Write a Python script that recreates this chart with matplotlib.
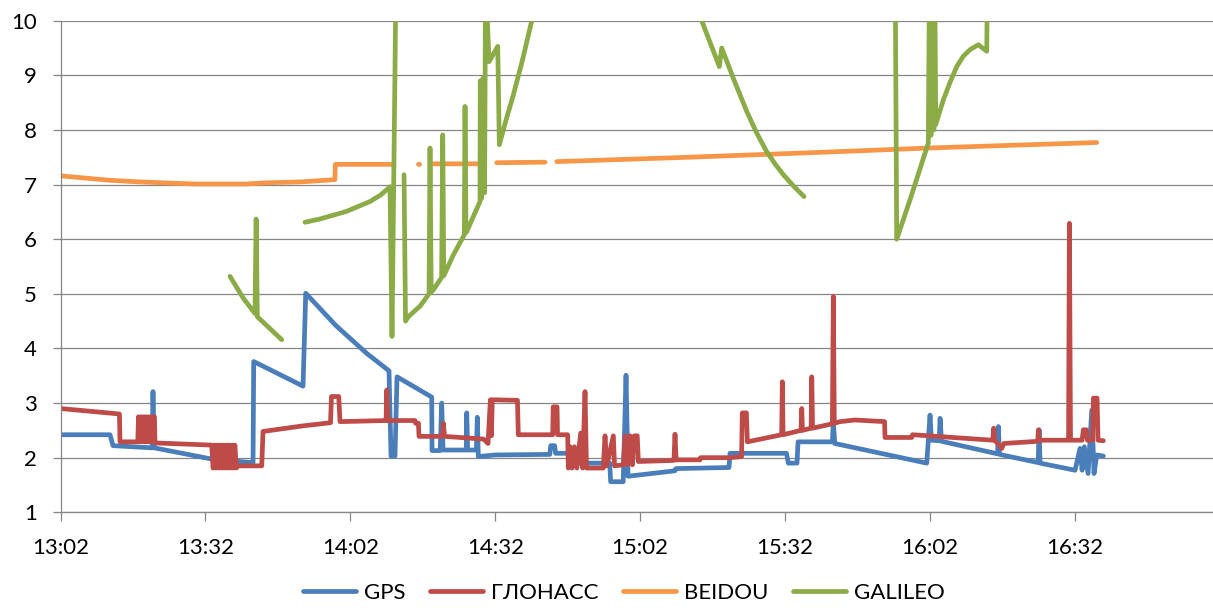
import matplotlib
matplotlib.use("Agg")
import matplotlib.pyplot as plt
import matplotlib.dates as mdates
import numpy as np
import pandas as pd

plt.rcParams["font.family"] = ["Lato", "DejaVu Sans"]

# Session start; all sample times are minutes elapsed since 13:02
START = pd.Timestamp("2000-01-01 13:02")
nan = np.nan

series_names = ["GPS", "ГЛОНАСС", "BEIDOU", "GALILEO"]
series_colors = ["#4A7EBB", "#BE4B48", "#F79646", "#8AAB46"]

gps_min = [0, 10.25, 10.87, 18.95, 19.15, 19.4, 31.57, 39.86, 40.0, 50.21, 50.77,
           57.0, 63.39, 68.01, 68.43, 69.25, 69.67, 76.85, 76.92, 78.6, 78.92, 79.2,
           84.0, 84.1, 84.3, 86.1, 86.29, 86.5, 90.0, 101.3, 101.5, 102.3, 102.5,
           105.5, 105.8, 113.7, 113.9, 116.5, 117.08, 117.5, 127.22, 127.4, 138.4,
           138.61, 150.3, 150.68, 152.48, 152.69, 159.8, 160.0, 160.3, 179.34,
           180.02, 180.3, 181.9, 182.1, 182.4, 194.0, 194.17, 194.4, 202.4, 202.6,
           202.8, 210.04, 211.07, 211.5, 211.97, 212.74, 213.5, 213.97, 214.53, 215.9]
gps_val = [2.42, 2.42, 2.22, 2.18, 3.21, 2.18, 1.97, 1.91, 3.76, 3.31, 5.01,
           4.42, 3.91, 3.59, 2.03, 2.03, 3.48, 3.11, 2.13, 2.13, 3.00, 2.14,
           2.14, 2.82, 2.14, 2.14, 2.74, 2.02, 2.05, 2.06, 2.22, 2.22, 2.08,
           2.08, 1.90, 1.90, 1.56, 1.56, 3.51, 1.66, 1.76, 1.80, 1.82,
           2.08, 2.08, 1.90, 1.90, 2.29, 2.29, 2.65, 2.26, 1.90,
           2.78, 2.32, 2.31, 2.72, 2.30, 2.07, 2.57, 2.06, 1.91, 2.51,
           1.90, 1.77, 2.17, 1.77, 2.20, 1.71, 2.87, 1.71, 2.05, 2.03]

glonass_min = [0, 12.2, 12.32, 16.0, 16.15, 16.45, 16.75, 17.05, 17.35, 17.65, 17.95,
               18.25, 18.55, 18.85, 19.15, 19.45, 19.56,
               31.3, 31.6, 31.9, 32.2, 32.5, 32.8, 33.1, 33.4, 33.7, 34.0, 34.3, 34.6,
               34.9, 35.2, 35.5, 35.8, 36.1, 36.4, 36.69,
               41.66, 41.93, 50.0, 55.9, 56.1,
               57.6, 57.87, 67.4, 67.54, 67.8, 73.4, 73.5, 74.1, 74.22, 79.1, 79.26,
               79.5, 87.6, 88.51, 89.0, 89.2, 89.4, 94.6, 94.78, 101.9, 102.0, 102.8,
               102.9, 105.0, 105.13, 105.5, 105.9, 106.4, 106.9, 107.7, 108.1,
               108.59, 108.9, 112.38, 112.73, 113.1, 114.45, 114.7, 116.52, 116.9,
               117.4, 117.9, 118.4, 118.8, 119.4, 119.63, 127.0, 127.22, 127.45,
               132.4, 132.5, 138.61, 141.0, 141.15, 142.0, 142.2, 149.3, 149.44,
               149.6, 153.3, 153.46, 153.6, 155.4, 155.53, 155.7, 159.8, 160.0,
               160.2, 161.39, 164.49, 170.6, 170.7, 176.23, 176.4, 193.0, 193.2,
               193.4, 194.88, 195.3, 202.3, 202.45, 202.6, 208.7, 208.87, 209.1,
               211.5, 211.76, 212.4, 212.6, 213.7, 213.84, 214.6, 214.8, 215.9]
glonass_val = [2.90, 2.80, 2.29, 2.29, 2.75, 2.29, 2.75, 2.29, 2.75, 2.29, 2.75,
               2.29, 2.75, 2.29, 2.75, 2.75, 2.27,
               2.23, 1.81, 2.23, 1.81, 2.23, 1.81, 2.23, 1.81, 2.23, 1.81, 2.23, 1.81,
               2.23, 1.81, 2.23, 1.81, 2.23, 1.81, 1.85,
               1.85, 2.48, 2.58, 2.64, 3.12,
               3.12, 2.66, 2.68, 3.24, 2.68, 2.68, 2.63, 2.63, 2.39, 2.39, 2.63,
               2.39, 2.34, 2.26, 3.06, 2.40, 3.06, 3.05, 2.42, 2.42, 2.93, 2.93,
               2.42, 2.42, 1.81, 2.20, 1.81, 2.20, 1.81, 2.45, 1.81,
               3.21, 1.81, 1.81, 2.40, 1.85, 2.40, 1.85, 1.87, 2.40,
               1.87, 2.40, 1.87, 2.40, 2.40, 1.93, 1.95, 2.43, 1.96,
               1.96, 2.00, 2.00, 2.02, 2.82, 2.82, 2.29, 2.42, 3.39,
               2.42, 2.50, 2.90, 2.50, 2.54, 3.48, 2.54, 2.62, 4.95,
               2.63, 2.66, 2.69, 2.66, 2.37, 2.37, 2.42, 2.32, 2.54,
               2.32, 2.17, 2.26, 2.30, 2.51, 2.32, 2.32, 6.29, 2.32,
               2.32, 2.51, 2.51, 2.32, 2.32, 3.09, 3.09, 2.32, 2.31]

beidou_min = [0, 5, 10, 16, 22, 28, 38.5, 42, 50, 56.8, 56.9, 68.8, 71.0, 74.1, 74.35,
              76.0, 77.18, 86.44, 88.0, 90.31, 100.31, 101.5, 102.73, 130.0, 157.25,
              180.02, 214.53]
beidou_val = [7.16, 7.12, 7.08, 7.05, 7.03, 7.01, 7.01, 7.03, 7.05, 7.09, 7.37, 7.37, nan,
              7.37, 7.37, nan, 7.38, 7.38, nan, 7.40, 7.41, nan, 7.42, 7.50, 7.59,
              7.67, 7.77]

galileo_min = [35.09, 37.84, 40.26, 40.5, 40.75, 45.8, 48.0,
               50.62, 53.73, 59.25, 64.08, 66.3, 68.22, 68.63, 69.46, 70.3,
               71.12, 71.43, 72.0, 74.5, 76.3, 76.5, 76.75, 77.18,
               78.9, 79.13, 79.35, 81.32, 83.6, 83.75, 83.95, 84.1, 86.85, 86.9, 87.2,
               87.5, 87.8, 88.0, 88.72, 90.52, 90.85, 92.3, 93.75, 95.7, 97.56,
               100.0, 105.0, 115.0, 125.0, 130.0, 132.75, 136.4, 136.89, 139.5,
               142.07, 144.1, 146.21, 148.0, 149.65, 151.8, 153.93,
               160.0, 172.77, 173.12, 175.87, 177.8, 179.66, 179.9, 180.2, 180.5,
               180.8, 181.0, 181.2, 182.77, 184.2, 185.55, 186.9, 188.3, 190.02,
               191.76, 191.9]
galileo_val = [5.32, 4.92, 4.64, 6.37, 4.58, 4.16, nan,
               6.31, 6.37, 6.51, 6.69, 6.81, 6.96, 4.22, 10.8, nan,
               7.18, 4.50, 4.58, 4.78, 5.00, 7.67, 5.03, 5.07,
               5.30, 7.91, 5.33, 5.71, 6.08, 8.43, 6.12, 6.14, 6.69, 8.90, 6.75,
               8.95, 6.85, 10.8, 9.25, 9.53, 7.73, 8.20, 8.64, 9.30, 10.0,
               10.9, 12.2, 13.2, 12.4, 10.9, 10.0, 9.16, 9.50, 8.90,
               8.34, 7.95, 7.60, 7.37, 7.18, 6.97, 6.78,
               nan, 11.5, 6.00, 6.72, 7.25, 7.76, 10.8, 7.90, 10.8,
               8.00, 10.8, 8.10, 8.55, 8.88, 9.16, 9.35, 9.47, 9.56,
               9.44, 11.0]

tick_minutes = [0, 30, 60, 90, 120, 150, 180, 210]
y_ticks = [1, 2, 3, 4, 5, 6, 7, 8, 9, 10]


def to_time(minutes):
    return (START + pd.to_timedelta(np.asarray(minutes, dtype=float), unit="min")).to_numpy()


W, H = 1213, 610
fig = plt.figure(figsize=(W / 100, H / 100), dpi=100)
ax = fig.add_axes([60.5 / W, 97.7 / H, (W - 60.5) / W, 491.6 / H])

grid_c = "#868686"
data = [(gps_min, gps_val), (glonass_min, glonass_val),
        (beidou_min, beidou_val), (galileo_min, galileo_val)]
handles = []
for (tm, vals), name, col in zip(data, series_names, series_colors):
    ln, = ax.plot(to_time(tm), vals, color=col, lw=3.4, label=name,
                  solid_joinstyle="round", solid_capstyle="round")
    handles.append(ln)

ax.set_ylim(1, 10)
ax.set_yticks(y_ticks)
ax.set_xlim(mdates.date2num(to_time([0, 238.6])))
ax.set_xticks(mdates.date2num(to_time(tick_minutes)))
ax.xaxis.set_major_formatter(mdates.DateFormatter("%H:%M"))

ax.grid(axis="y", color=grid_c, lw=0.9)
ax.set_axisbelow(True)
for s in ("top", "right"):
    ax.spines[s].set_visible(False)
for s in ("left", "bottom"):
    ax.spines[s].set_color(grid_c)
    ax.spines[s].set_linewidth(0.9)
ax.tick_params(axis="y", direction="out", length=6, width=0.9, color=grid_c,
               labelsize=16, pad=11)
ax.tick_params(axis="x", direction="out", length=6.5, width=0.9, color=grid_c,
               labelsize=16, pad=12)

fig.legend(handles, series_names, loc="center", bbox_to_anchor=(624 / W, 1 - 593 / H),
           ncol=4, frameon=False, fontsize=16, handlelength=2.4, handletextpad=0.35,
           columnspacing=1.1)

fig.savefig("out.png", dpi=100)
